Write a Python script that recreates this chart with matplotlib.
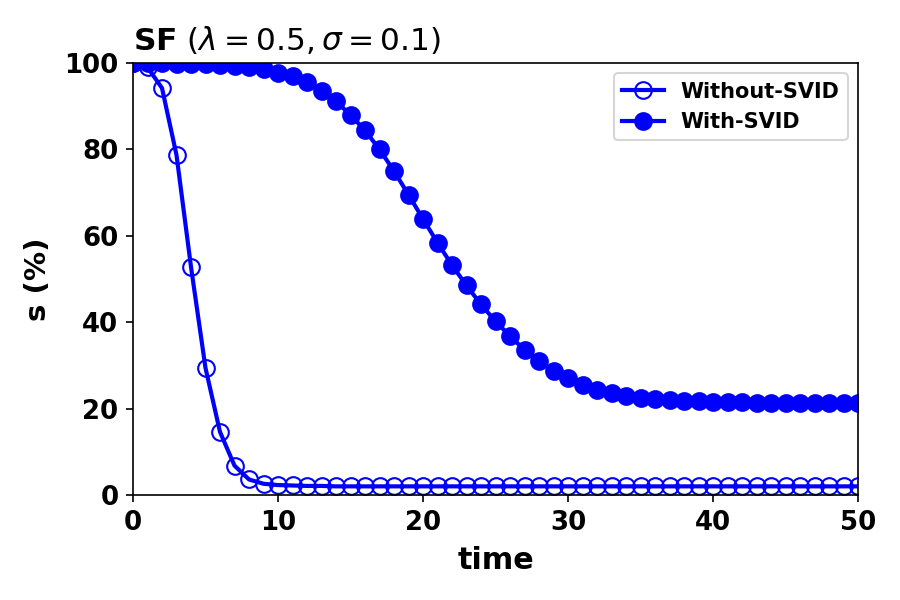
import matplotlib
matplotlib.use("Agg")
import matplotlib.pyplot as plt
import numpy as np

time = list(range(0, 51))
without_svid = [100.0, 99.0, 94.2, 78.7, 52.8, 29.4, 14.6, 6.8, 3.6, 2.6, 2.3, 2.2, 2.1, 2.1, 2.0,
                2.0, 2.0, 2.0, 2.0, 2.0, 2.0, 2.0, 2.0, 2.0, 2.0, 2.0, 2.0, 2.0, 2.0, 2.0,
                2.0, 2.0, 2.0, 2.0, 2.0, 2.0, 2.0, 2.0, 2.0, 2.0, 2.0, 2.0, 2.0, 2.0, 2.0,
                2.0, 2.0, 2.0, 2.0, 2.0, 2.0]
with_svid = [100.0, 99.95, 99.9, 99.85, 99.8, 99.7, 99.6, 99.4, 99.1, 98.6, 97.8, 96.9, 95.6, 93.5,
             91.1, 88.0, 84.4, 80.0, 75.0, 69.5, 63.9, 58.4, 53.2, 48.5, 44.1, 40.2, 36.8, 33.6,
             31.0, 28.7, 27.0, 25.5, 24.4, 23.6, 23.0, 22.5, 22.2, 22.0, 21.8, 21.7, 21.6, 21.5,
             21.45, 21.4, 21.35, 21.3, 21.3, 21.25, 21.25, 21.2, 21.2]

fig = plt.figure(figsize=(6, 4), dpi=150)
ax = fig.add_axes([133/900, 1 - 495/600, (858-133)/900, (495-63)/600])

ax.plot(time, without_svid, color='blue', lw=2, marker='o', markersize=8,
        markerfacecolor='none', markeredgewidth=1.0, label='Without-SVID')
ax.plot(time, with_svid, color='blue', lw=2, marker='o', markersize=8,
        label='With-SVID')

ax.set_xlim(0, 50)
ax.set_ylim(0, 100)
ax.set_xticks([0, 10, 20, 30, 40, 50])
ax.set_yticks([0, 20, 40, 60, 80, 100])
for lab in ax.get_xticklabels() + ax.get_yticklabels():
    lab.set_fontweight('bold')
    lab.set_fontsize(12.5)
ax.set_xlabel('time', fontsize=14.5, fontweight='bold', labelpad=5)
ax.set_ylabel('s (%)', fontsize=14, fontweight='bold', labelpad=6)
ax.set_title(r'$\mathbf{SF}$ ($\lambda=0.5, \sigma=0.1$)', loc='left', fontsize=15)
ax.legend(loc='upper right', prop={'weight': 'bold', 'size': 10})

fig.savefig('out.png', dpi=150)
